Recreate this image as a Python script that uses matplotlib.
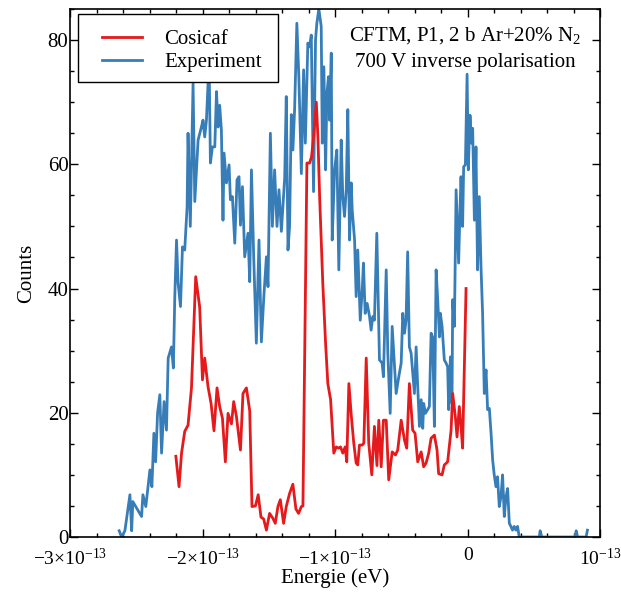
import matplotlib
matplotlib.use("Agg")
import matplotlib.pyplot as plt
from matplotlib.ticker import FixedLocator, FixedFormatter, MultipleLocator
from matplotlib.patches import Rectangle
import numpy as np

# ---- data (energies in units of 1e-13 eV) ----
exp_energy = [
    -2.632, -2.614, -2.589, -2.551, -2.538, -2.529, -2.491, -2.463, -2.453, -2.431,
    -2.400, -2.385, -2.370, -2.357, -2.342, -2.325, -2.312, -2.293, -2.275, -2.262,
    -2.237, -2.223, -2.212, -2.199, -2.187, -2.169, -2.154, -2.137, -2.119, -2.112,
    -2.095, -2.074, -2.061, -2.036, -2.011, -1.999, -1.986, -1.973, -1.953, -1.943,
    -1.928, -1.910, -1.897, -1.885, -1.873, -1.860, -1.848, -1.840, -1.822, -1.802,
    -1.792, -1.777, -1.759, -1.742, -1.727, -1.716, -1.701, -1.684, -1.659, -1.646,
    -1.633, -1.616, -1.596, -1.576, -1.558, -1.538, -1.520, -1.508, -1.490, -1.475,
    -1.458, -1.440, -1.425, -1.407, -1.382, -1.370, -1.357, -1.345, -1.332, -1.320,
    -1.307, -1.290, -1.275, -1.256, -1.239, -1.226, -1.207, -1.194, -1.181, -1.164,
    -1.149, -1.139, -1.124, -1.106, -1.098, -1.086, -1.073, -1.063, -1.051, -1.043,
    -1.030, -1.023, -1.005, -0.988, -0.973, -0.955, -0.943, -0.930, -0.917, -0.905,
    -0.892, -0.879, -0.872, -0.854, -0.842, -0.830, -0.811, -0.796, -0.787, -0.774,
    -0.759, -0.741, -0.729, -0.716, -0.704, -0.686, -0.666, -0.646, -0.636, -0.615,
    -0.603, -0.585, -0.570, -0.558, -0.540, -0.520, -0.502, -0.490, -0.477, -0.465,
    -0.453, -0.440, -0.427, -0.415, -0.402, -0.389, -0.377, -0.364, -0.351, -0.339,
    -0.332, -0.319, -0.302, -0.289, -0.276, -0.264, -0.251, -0.238, -0.226, -0.213,
    -0.206, -0.193, -0.176, -0.163, -0.151, -0.143, -0.130, -0.118, -0.113, -0.100,
    -0.087, -0.068, -0.057, -0.050, -0.038, -0.030, -0.017, -0.004, 0.005, 0.018,
    0.030, 0.038, 0.051, 0.063, 0.075, 0.088, 0.101, 0.113, 0.126, 0.139,
    0.151, 0.164, 0.177, 0.189, 0.201, 0.214, 0.226, 0.239, 0.252, 0.264,
    0.277, 0.290, 0.302, 0.315, 0.327, 0.339, 0.352, 0.365, 0.377, 0.390,
    0.541, 0.548, 0.560, 0.812, 0.820, 0.831, 0.895, 0.905,
]
exp_counts = [
    1, 0, 1, 6.8, 1, 5.7, 4.3, 3.3, 6.8, 4.9,
    10.8, 8.1, 16.7, 12.1, 20, 22.9, 13.5, 21.8, 17.2, 28.8,
    30.6, 27.2, 38.7, 47.8, 40.9, 37.1, 46.7, 46.2, 53.2, 65,
    50, 73, 54, 63.9, 66, 67.1, 64.4, 67.1, 76.8, 60.2,
    62.8, 62.8, 71.7, 66, 69.5, 65.5, 51, 61.8, 57, 59.9,
    54.3, 54.8, 47.3, 57.5, 58, 50.2, 56.4, 45.1, 48.9, 41.1,
    59.1, 45.1, 31.2, 47.8, 31.4, 39.2, 45.1, 40.3, 65, 50,
    59.1, 50, 55.9, 49.2, 57.8, 70.9, 46.2, 50, 68, 62.3,
    68.8, 82.7, 74.1, 58.5, 75.2, 63.4, 79.5, 78.9, 80.8, 55.6,
    80, 82.7, 85, 82.2, 63.4, 75.7, 59.1, 71.4, 74.1, 67.1,
    77.9, 47.8, 59.1, 62.3, 43, 63.9, 54.8, 51.6, 55.9, 68.8,
    47.8, 57, 52.7, 47.8, 38.7, 46.2, 34.9, 39.8, 44.1, 36,
    37.6, 35.5, 33.3, 35.5, 34.9, 48.9, 28.5, 28, 25.8, 43,
    29.6, 19.9, 33.9, 29.6, 23.1, 25.8, 28, 36, 32.8, 34.9,
    45.9, 30.6, 29.6, 26.4, 23.1, 30.6, 24.2, 17.8, 22.1, 17.5,
    21.5, 19.9, 20.5, 21, 32.8, 32.2, 17.8, 43, 38.2, 32.2,
    36, 33.9, 28.5, 28, 27.4, 20.5, 29, 21.5, 38.2, 33.9,
    55.9, 44.1, 53.2, 58, 50, 59.6, 59.9, 74.5, 59.1, 67.9,
    63.4, 65.8, 51, 62.8, 43, 54.8, 43.5, 36, 23.1, 26.9,
    20.5, 20.7, 16.7, 12.4, 10, 8.1, 9.7, 4.9, 6.5, 10,
    3.3, 6.5, 7.8, 2.2, 1.7, 1.1, 1.7, 1.1, 1.7, 0,
    0, 1, 0, 0, 1, 0, 0, 1.1,
]

cos_energy = [
    -2.204, -2.180, -2.161, -2.137, -2.112, -2.086, -2.054, -2.024, -2.003, -1.986,
    -1.961, -1.938, -1.916, -1.893, -1.873, -1.852, -1.830, -1.810, -1.784, -1.767,
    -1.747, -1.716, -1.697, -1.671, -1.646, -1.629, -1.603, -1.582, -1.561, -1.541,
    -1.520, -1.496, -1.471, -1.453, -1.433, -1.415, -1.390, -1.370, -1.345, -1.320,
    -1.297, -1.277, -1.256, -1.244, -1.214, -1.194, -1.179, -1.164, -1.143, -1.131,
    -1.118, -1.094, -1.073, -1.056, -1.035, -1.011, -0.992, -0.975, -0.960, -0.943,
    -0.925, -0.913, -0.897, -0.879, -0.860, -0.842, -0.830, -0.817, -0.796, -0.784,
    -0.766, -0.747, -0.724, -0.704, -0.685, -0.671, -0.653, -0.636, -0.615, -0.596,
    -0.570, -0.545, -0.528, -0.502, -0.477, -0.460, -0.440, -0.415, -0.397, -0.377,
    -0.351, -0.332, -0.314, -0.294, -0.276, -0.251, -0.231, -0.219, -0.193, -0.176,
    -0.151, -0.125, -0.113, -0.093, -0.080, -0.063, -0.050, -0.038, -0.012,
]
cos_counts = [
    13, 8.1, 13.5, 17, 18, 24, 41.9, 37, 25.3, 28.8,
    24.2, 21.5, 17.1, 24, 21, 19.1, 12.1, 19.9, 18.2, 21.8,
    19.5, 14, 23.1, 24, 20.3, 4.9, 5, 6.8, 3.2, 2.9,
    1.1, 3.8, 3, 2.2, 4.9, 6, 2.2, 4.9, 7, 8.5,
    4.5, 3.8, 4.9, 5, 60.2, 60.2, 61.2, 64.4, 70, 64.4,
    54.8, 40.8, 31.2, 24.7, 22.1, 13.5, 14.5, 14.3, 14.5, 13.5,
    14.5, 12.1, 24.7, 19.6, 15.1, 11.9, 11.6, 14.8, 14.8, 15.1,
    28.8, 15.1, 10, 17.8, 11.5, 18.8, 11.3, 18.8, 18.8, 9.2,
    13.7, 13.2, 14, 18.8, 15.6, 14.3, 24.7, 17.2, 16.7, 12.1,
    13.7, 11.3, 11.9, 13.5, 15.9, 16.4, 14, 10.2, 10, 11.6,
    12.1, 17.2, 23.1, 19.4, 16.1, 21, 17.8, 14.3, 40,
]
energy_unit = 1e-13

xtick_values = [-3, -2, -1, 0, 1]
xtick_labels = ["\u22123\u00d710$^{-13}$", "\u22122\u00d710$^{-13}$", "\u22121\u00d710$^{-13}$",
                "0", "10$^{-13}$"]
ytick_values = [0, 20, 40, 60, 80]

series_labels = ["Cosicaf", "Experiment"]
colors = ["#e41a1c", "#377eb8"]

# ---- style ----
plt.rcParams["font.family"] = ["Liberation Serif", "DejaVu Serif"]
plt.rcParams["mathtext.fontset"] = "custom"
plt.rcParams["mathtext.rm"] = "Liberation Serif"
plt.rcParams["mathtext.it"] = "Liberation Serif:italic"
plt.rcParams["mathtext.default"] = "regular"

fig = plt.figure(figsize=(6.21, 5.95), dpi=100)
ax = fig.add_axes([0.1135, 0.0975, 0.8527, 0.8874])

ax.plot(np.array(cos_energy) * energy_unit, cos_counts, color=colors[0], lw=2.0,
        label=series_labels[0], zorder=3)
ax.plot(np.array(exp_energy) * energy_unit, exp_counts, color=colors[1], lw=2.0,
        label=series_labels[1], zorder=2)

ax.set_xlim(-3e-13, 1e-13)
ax.set_ylim(0, 85)

ax.xaxis.set_major_locator(FixedLocator([v * energy_unit for v in xtick_values]))
ax.xaxis.set_major_formatter(FixedFormatter(xtick_labels))
ax.xaxis.set_minor_locator(MultipleLocator(0.2e-13))
ax.yaxis.set_major_locator(FixedLocator(ytick_values))
ax.yaxis.set_minor_locator(MultipleLocator(5))

ax.tick_params(which="both", direction="in", top=True, right=True,
               width=1.0, colors="black")
ax.tick_params(which="major", length=5.5)
ax.tick_params(which="minor", length=3)
ax.tick_params(axis="x", labelsize=14, pad=7.5)
ax.tick_params(axis="y", labelsize=15, pad=1.5)
for s in ax.spines.values():
    s.set_linewidth(1.2)

ax.set_xlabel("Energie (eV)", fontsize=15, labelpad=0)
ax.set_ylabel("Counts", fontsize=15, labelpad=8)

# legend: frame drawn as rectangle, entries placed inside
ax.add_patch(Rectangle((0.0142, 0.8617), 0.3777, 0.1288, transform=ax.transAxes,
                       facecolor="white", edgecolor="black", lw=1.0, zorder=5))
leg = ax.legend(loc="upper left", bbox_to_anchor=(0.0595, 0.961), borderaxespad=0,
                fontsize=15, handlelength=1.92, handletextpad=1.06, borderpad=0,
                labelspacing=0.16, frameon=False)
leg.set_zorder(6)

ax.text(0.745, 0.969, "CFTM, P1, 2 b Ar+20% N$_2$\n700 V inverse polarisation",
        transform=ax.transAxes, ha="center", va="top", fontsize=15,
        linespacing=1.45, multialignment="center")

fig.savefig("out.png", dpi=100)
